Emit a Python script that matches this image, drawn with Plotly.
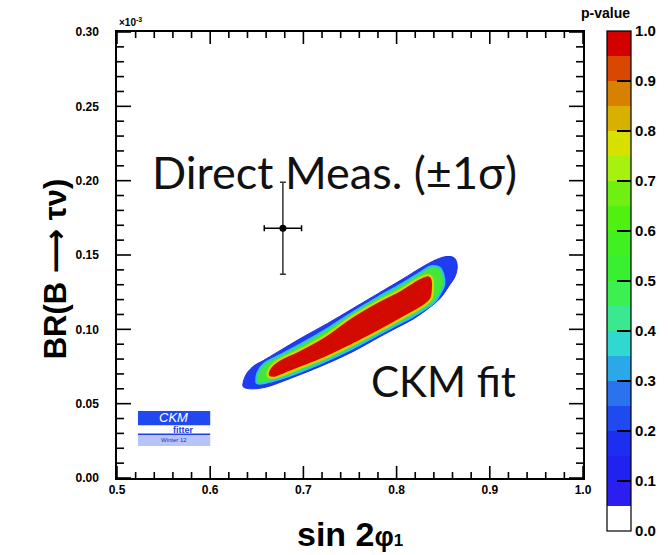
import plotly.graph_objects as go

# ---------------- data ----------------
# outer contour (p-value >= 0.05, blue)
blue_x = [0.635, 0.638, 0.646, 0.657, 0.673, 0.700, 0.726, 0.753, 0.780, 0.807, 0.825, 0.843,
          0.854, 0.862, 0.865, 0.863, 0.856, 0.847, 0.834, 0.818, 0.800, 0.782, 0.753, 0.718,
          0.686, 0.659, 0.643, 0.636, 0.635]
blue_y = [0.062, 0.069, 0.075, 0.079, 0.085, 0.095, 0.104, 0.114, 0.124, 0.134, 0.141, 0.147,
          0.149, 0.148, 0.143, 0.136, 0.129, 0.121, 0.114, 0.107, 0.101, 0.095, 0.085, 0.075,
          0.067, 0.061, 0.060, 0.061, 0.062]
# middle contour (green, cyan rim)
green_x = [0.650, 0.651, 0.658, 0.673, 0.700, 0.726, 0.753, 0.780, 0.807, 0.825, 0.838, 0.846,
           0.850, 0.851, 0.847, 0.840, 0.818, 0.800, 0.782, 0.753, 0.718, 0.686, 0.665, 0.654, 0.650]
green_y = [0.064, 0.071, 0.077, 0.082, 0.091, 0.1005, 0.1114, 0.1215, 0.131, 0.138, 0.1425, 0.1415,
           0.137, 0.130, 0.1245, 0.118, 0.109, 0.103, 0.097, 0.0873, 0.077, 0.069, 0.065, 0.0635, 0.064]
# inner contour (red core, yellow rim)
red_x = [0.662, 0.664, 0.672, 0.696, 0.723, 0.750, 0.777, 0.804, 0.823, 0.834, 0.838, 0.839,
         0.837, 0.829, 0.814, 0.793, 0.771, 0.750, 0.723, 0.696, 0.680, 0.668, 0.662]
red_y = [0.0686, 0.074, 0.0787, 0.0861, 0.0955, 0.1076, 0.1177, 0.1265, 0.1339, 0.1365, 0.1345, 0.1265,
         0.1204, 0.1157, 0.1103, 0.1029, 0.0955, 0.0888, 0.0807, 0.0740, 0.0700, 0.0673, 0.0686]

# direct measurement (±1 sigma)
meas_x = [0.678]
meas_y = [0.168]
meas_ex = [0.020]
meas_ey = [0.031]

# colour scale of the p-value bar
cb_edges = [0.00, 0.05, 0.10, 0.15, 0.20, 0.25, 0.30, 0.35, 0.40, 0.45, 0.50,
            0.55, 0.60, 0.65, 0.70, 0.75, 0.80, 0.85, 0.90, 0.95, 1.00]
cb_colors = ["#ffffff", "#2a1ef0", "#2222f0", "#1e2ef0", "#1f4af0", "#2a72ee", "#2aa8e8",
             "#30d8d0", "#3ae890", "#3cf050", "#38f030", "#40f020", "#50f010", "#70f010",
             "#a8f010", "#d8e000", "#d8b000", "#d88000", "#d84800", "#d40000"]
cb_ticks = [0.0, 0.1, 0.2, 0.3, 0.4, 0.5, 0.6, 0.7, 0.8, 0.9, 1.0]

# axes
x_range = [0.5, 1.0]
y_range = [0.0, 0.30]
x_major = [0.5, 0.6, 0.7, 0.8, 0.9, 1.0]
y_major = [0.00, 0.05, 0.10, 0.15, 0.20, 0.25, 0.30]
x_minor = [0.52, 0.54, 0.56, 0.58, 0.62, 0.64, 0.66, 0.68, 0.72, 0.74, 0.76, 0.78,
           0.82, 0.84, 0.86, 0.88, 0.92, 0.94, 0.96, 0.98]
y_minor = [0.01, 0.02, 0.03, 0.04, 0.06, 0.07, 0.08, 0.09, 0.11, 0.12, 0.13, 0.14,
           0.16, 0.17, 0.18, 0.19, 0.21, 0.22, 0.23, 0.24, 0.26, 0.27, 0.28, 0.29]

# ---------------- figure ----------------
colorscale = []
for i, c in enumerate(cb_colors):
    colorscale.append([cb_edges[i], c])
    colorscale.append([cb_edges[i + 1], c])

fig = go.Figure()

fig.add_trace(go.Scatter(x=blue_x, y=blue_y, mode="lines", fill="toself",
                         fillcolor="#1f3cf2", line=dict(color="#1a30e0", width=1, shape="spline"),
                         hoverinfo="skip", showlegend=False))
fig.add_trace(go.Scatter(x=green_x, y=green_y, mode="lines", fill="toself",
                         fillcolor="#44e63a", line=dict(color="#2ec4e4", width=2.2, shape="spline"),
                         hoverinfo="skip", showlegend=False))
fig.add_trace(go.Scatter(x=red_x, y=red_y, mode="lines", fill="toself",
                         fillcolor="#d20a00", line=dict(color="#d8d400", width=2.2, shape="spline"),
                         hoverinfo="skip", showlegend=False))

fig.add_trace(go.Scatter(
    x=meas_x, y=meas_y, mode="markers",
    marker=dict(color="black", size=7, symbol="circle"),
    error_x=dict(type="data", array=meas_ex, color="black", thickness=1.5, width=3),
    error_y=dict(type="data", array=meas_ey, color="#333333", thickness=1.5, width=3),
    showlegend=False, hoverinfo="skip"))

# colour bar carrier
fig.add_trace(go.Scatter(
    x=[None], y=[None], mode="markers",
    marker=dict(color=[0.5], colorscale=colorscale, cmin=0, cmax=1, showscale=True,
                colorbar=dict(
                    x=1.0515, xanchor="left", xpad=0,
                    y=1.002, yanchor="top", ypad=0,
                    len=500, lenmode="pixels",
                    thickness=24, thicknessmode="pixels",
                    outlinecolor="black", outlinewidth=1.2,
                    tickvals=cb_ticks, ticktext=["%.1f" % v for v in cb_ticks],
                    ticks="inside", ticklen=14, tickwidth=1.5, tickcolor="black",
                    tickfont=dict(family="Liberation Sans", size=15, color="black", weight="bold"),
                )),
    showlegend=False, hoverinfo="skip"))

tick_font = dict(family="Liberation Sans", size=12, color="black", weight="bold")
fig.update_layout(
    xaxis=dict(range=x_range, tickmode="array", tickvals=x_major,
               ticktext=["%.1f" % v for v in x_major], ticks="", tickfont=tick_font,
               showline=True, linecolor="black", linewidth=1.5, mirror=True,
               showgrid=False, zeroline=False),
    yaxis=dict(range=y_range, tickmode="array", tickvals=y_major,
               ticktext=["%.2f" % v for v in y_major], ticks="", tickfont=tick_font,
               ticklabelstandoff=14,
               showline=True, linecolor="black", linewidth=1.5, mirror=True,
               showgrid=False, zeroline=False),
)

# tick marks on all four sides (inside), positioned by the axes' own scales
shapes = []
tick_line = dict(color="black", width=1.6)
for vals, ln in ((x_major, 12), (x_minor, 6)):
    for v in vals:
        shapes.append(dict(type="line", xref="x", yref="paper", ysizemode="pixel", yanchor=0,
                           x0=v, x1=v, y0=0, y1=ln, line=tick_line))
        shapes.append(dict(type="line", xref="x", yref="paper", ysizemode="pixel", yanchor=1,
                           x0=v, x1=v, y0=0, y1=-ln, line=tick_line))
for vals, ln in ((y_major, 14), (y_minor, 7)):
    for v in vals:
        shapes.append(dict(type="line", yref="y", xref="paper", xsizemode="pixel", xanchor=0,
                           y0=v, y1=v, x0=0, x1=ln, line=tick_line))
        shapes.append(dict(type="line", yref="y", xref="paper", xsizemode="pixel", xanchor=1,
                           y0=v, y1=v, x0=0, x1=-ln, line=tick_line))

# CKMfitter logo
shapes += [
    dict(type="rect", xref="x", yref="y", x0=0.5225, x1=0.600, y0=0.0355, y1=0.0450,
         fillcolor="#2248f0", line=dict(width=0), layer="below"),
    dict(type="line", xref="x", yref="y", x0=0.5225, x1=0.600, y0=0.0295, y1=0.0295,
         line=dict(color="#2040e0", width=1.5)),
    dict(type="rect", xref="x", yref="y", x0=0.5225, x1=0.600, y0=0.0215, y1=0.0290,
         fillcolor="#b8c4f8", line=dict(width=0), layer="below"),
]

annotations = [
    dict(text="×10<sup>-3</sup>", x=0.0, y=1.0, xref="paper", yref="paper", xanchor="left",
         yanchor="bottom", yshift=2, showarrow=False,
         font=dict(family="Liberation Sans", size=10, color="black", weight="bold")),
    dict(text="Direct Meas. (±1σ)", x=0.733, y=0.2058, xref="x", yref="y", showarrow=False,
         font=dict(family="Lato", size=45, color="#111111")),
    dict(text="CKM fit", x=0.85, y=0.0652, xref="x", yref="y", showarrow=False,
         font=dict(family="Lato", size=42, color="#111111")),
    dict(text="BR(B <span style='font-family:DejaVu Sans'>⟶</span> τν)", x=-0.176, y=0.47,
         xref="paper", yref="paper", textangle=-90,
         showarrow=False, font=dict(family="Liberation Sans", size=31, color="black", weight="bold")),
    dict(text="sin 2<span style='font-size:27px'>φ</span><span style='font-size:17px'>1</span>",
         x=0.5, y=-0.125, xref="paper", yref="paper", yanchor="middle",
         showarrow=False, font=dict(family="Liberation Sans", size=34, color="black", weight="bold")),
    dict(text="p-value", x=1.105, y=1.0, xref="paper", yref="paper", yanchor="bottom", yshift=9,
         showarrow=False, font=dict(family="Liberation Sans", size=14, color="black", weight="bold")),
    dict(text="<i>CKM</i>", x=0.561, y=0.0405, xref="x", yref="y", showarrow=False,
         font=dict(family="Liberation Sans", size=13, color="white")),
    dict(text="fitter", x=0.571, y=0.0325, xref="x", yref="y", showarrow=False,
         font=dict(family="Liberation Sans", size=9, color="#2040e0", weight="bold")),
    dict(text="Winter 12", x=0.561, y=0.0255, xref="x", yref="y", showarrow=False,
         font=dict(family="Liberation Sans", size=6, color="#2030c0")),
]

fig.update_layout(
    width=670, height=555,
    margin=dict(l=117, r=87, t=32, b=77, autoexpand=False),
    paper_bgcolor="white", plot_bgcolor="white",
    annotations=annotations, shapes=shapes,
    showlegend=False,
)

fig.write_html("out.html")
